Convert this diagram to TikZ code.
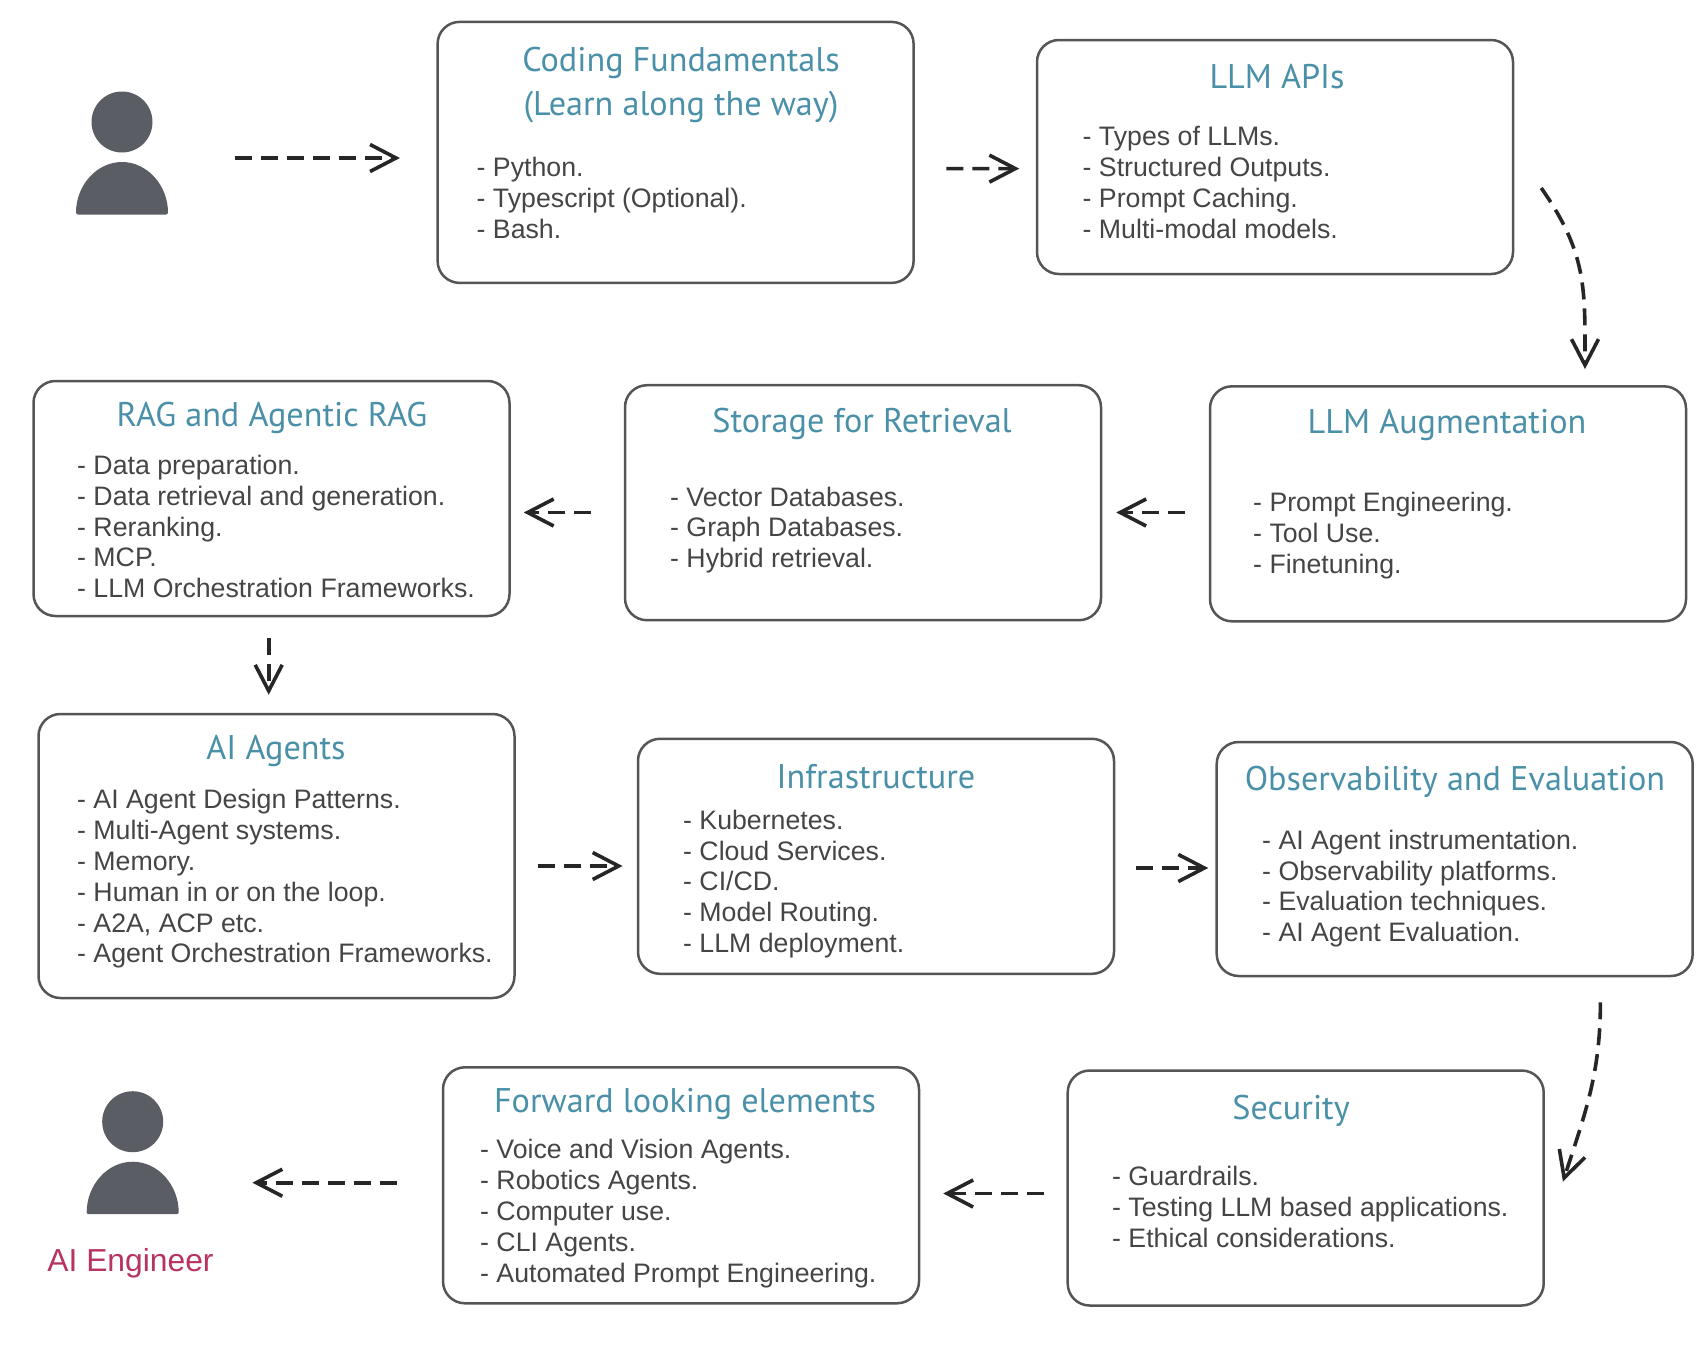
\documentclass[tikz,border=0pt]{standalone}
\usepackage{fontspec}
\setmainfont{Liberation Sans}
\newfontfamily\titlefont{PT Sans}
\usetikzlibrary{arrows.meta}
\definecolor{boxgray}{HTML}{555555}
\definecolor{bodygray}{HTML}{454545}
\definecolor{titleteal}{HTML}{4A90A8}
\definecolor{icongray}{HTML}{5A5D63}
\definecolor{engineerred}{HTML}{B8335F}
\tikzset{
  box_node/.style = {rectangle, draw=boxgray, line width=2.5pt, rounded corners=22pt, minimum width=476pt, inner sep=0pt, fill=white},
  title_node/.style = {align=center, inner sep=0pt, text=titleteal, font=\titlefont\fontsize{34.2}{44}\selectfont},
  list_node/.style = {align=left, anchor=west, inner sep=0pt, text=bodygray, font=\fontsize{26.7}{30.8}\selectfont},
  head_node/.style = {circle, fill=icongray, minimum size=61pt, inner sep=0pt},
  flow_arrow/.style = {-{Straight Barb[length=26pt,width=27pt,line width=3.6pt]}, black!85, line width=3.6pt, dash pattern=on 17pt off 9pt},
  person_icon/.pic = {
    \fill [icongray, rounded corners=2pt] (-46,92.5) arc [x radius=46, y radius=-52.5, start angle=180, end angle=0] -- cycle;
  },
}

\begin{document}
\begin{tikzpicture}[x=1pt, y=-1pt]
    \useasboundingbox (0,0) rectangle (1706,1350);
    \fill [white] (0,0) rectangle (1706,1350);

    \node [head_node] (learner_head) at (122,122) {};
    \pic at (122,122) {person_icon};
    \coordinate (learner_exit) at (235,158);

    \node [box_node, minimum height=261pt] (coding) at (675.6,152.4) {};
    \node [title_node] (coding_title) at (681,85) {Coding Fundamentals\\(Learn along the way)};
    \node [list_node] (coding_list) at (476.5,198) {- Python.\\- Typescript (Optional).\\- Bash.};

    \node [box_node, minimum height=234pt] (llm_apis) at (1275,157) {};
    \node [title_node] (llm_apis_title) at (1277,77) {LLM APIs};
    \node [list_node] (llm_apis_list) at (1082.5,182.5) {- Types of LLMs.\\- Structured Outputs.\\- Prompt Caching.\\- Multi-modal models.};

    \node [box_node, minimum height=235pt] (augmentation) at (1448,503.8) {};
    \node [title_node] (augmentation_title) at (1447,425) {LLM Augmentation};
    \node [list_node] (augmentation_list) at (1253,535.5) {- Prompt Engineering.\\- Tool Use.\\- Finetuning.};

    \node [box_node, minimum height=235pt] (storage) at (863,502.7) {};
    \node [title_node] (storage_title) at (862,424) {Storage for Retrieval};
    \node [list_node] (storage_list) at (670,530) {- Vector Databases.\\- Graph Databases.\\- Hybrid retrieval.};

    \node [box_node, minimum height=235pt] (rag) at (271.5,498.5) {};
    \node [title_node] (rag_title) at (272,418) {RAG and Agentic RAG};
    \node [list_node] (rag_list) at (77,526.5) {- Data preparation.\\- Data retrieval and generation.\\- Reranking.\\- MCP.\\- LLM Orchestration Frameworks.};

    \node [box_node, minimum height=284pt] (agents) at (276.5,856) {};
    \node [title_node] (agents_title) at (276,751) {AI Agents};
    \node [list_node] (agents_list) at (77,879) {- AI Agent Design Patterns.\\- Multi-Agent systems.\\- Memory.\\- Human in or on the loop.\\- A2A, ACP etc.\\- Agent Orchestration Frameworks.};

    \node [box_node, minimum height=235pt] (infra) at (876,856.3) {};
    \node [title_node] (infra_title) at (876,777) {Infrastructure};
    \node [list_node] (infra_list) at (683,884) {- Kubernetes.\\- Cloud Services.\\- CI/CD.\\- Model Routing.\\- LLM deployment.};

    \node [box_node, minimum height=234pt] (observability) at (1454.7,859) {};
    \node [title_node] (observability_title) at (1455,782) {Observability and Evaluation};
    \node [list_node] (observability_list) at (1262,888.5) {- AI Agent instrumentation.\\- Observability platforms.\\- Evaluation techniques.\\- AI Agent Evaluation.};

    \node [box_node, minimum height=235pt] (security) at (1305.7,1188) {};
    \node [title_node] (security_title) at (1291,1111) {Security};
    \node [list_node] (security_list) at (1112,1207) {- Guardrails.\\- Testing LLM based applications.\\- Ethical considerations.};

    \node [box_node, minimum height=236pt] (forward) at (681,1185.3) {};
    \node [title_node] (forward_title) at (685,1104.5) {Forward looking elements};
    \node [list_node] (forward_list) at (480,1213.5) {- Voice and Vision Agents.\\- Robotics Agents.\\- Computer use.\\- CLI Agents.\\- Automated Prompt Engineering.};

    \node [head_node] (engineer_head) at (132.7,1121.7) {};
    \pic at (132.7,1121.7) {person_icon};
    \node [inner sep=0pt, text=engineerred, font=\fontsize{31.8}{36}\selectfont] (engineer_label) at (130.5,1263) {AI Engineer};
    \coordinate (engineer_entry) at (252.4,1182.7);

    \draw [flow_arrow, shorten >=36.4pt] (learner_exit) -- ([yshift=-5.6pt]coding.west);
    \draw [flow_arrow, shorten <=31.5pt, shorten >=16.5pt] ([yshift=-16.2pt]coding.east) -- ([yshift=-11.6pt]llm_apis.west);
    \draw [flow_arrow] ([xshift=27pt,yshift=-31pt]llm_apis.east) to [out=-55, in=90, looseness=1.1] ([xshift=137pt,yshift=16pt]augmentation.north);
    \draw [flow_arrow, shorten <=24pt, shorten >=14pt] ([yshift=-8.7pt]augmentation.west) -- ([yshift=-9.8pt]storage.east);
    \draw [flow_arrow, shorten <=32.5pt, shorten >=13pt] ([yshift=-9.8pt]storage.west) -- ([yshift=-14pt]rag.east);
    \draw [flow_arrow, shorten <=20.5pt, shorten >=18pt] ([xshift=-2.8pt]rag.south) -- ([xshift=-7.8pt]agents.north);
    \draw [flow_arrow, shorten <=21.8pt, shorten >=14.2pt] ([yshift=-10pt]agents.east) -- ([yshift=-9.7pt]infra.west);
    \draw [flow_arrow, shorten <=20.8pt, shorten >=7.2pt] ([yshift=-11.7pt]infra.east) -- ([yshift=-9pt]observability.west);
    \draw [flow_arrow] ([xshift=145.7pt,yshift=-25pt]observability.south) to [out=-90, in=72, looseness=1.0] ([xshift=18pt,yshift=6.4pt]security.east);
    \draw [flow_arrow, shorten <=22.5pt, shorten >=23pt] ([yshift=-5.5pt]security.west) -- ([yshift=-8.2pt]forward.east);
    \draw [flow_arrow, shorten <=45pt] ([yshift=2.6pt]forward.west) -- (engineer_entry);
\end{tikzpicture}
\end{document}
